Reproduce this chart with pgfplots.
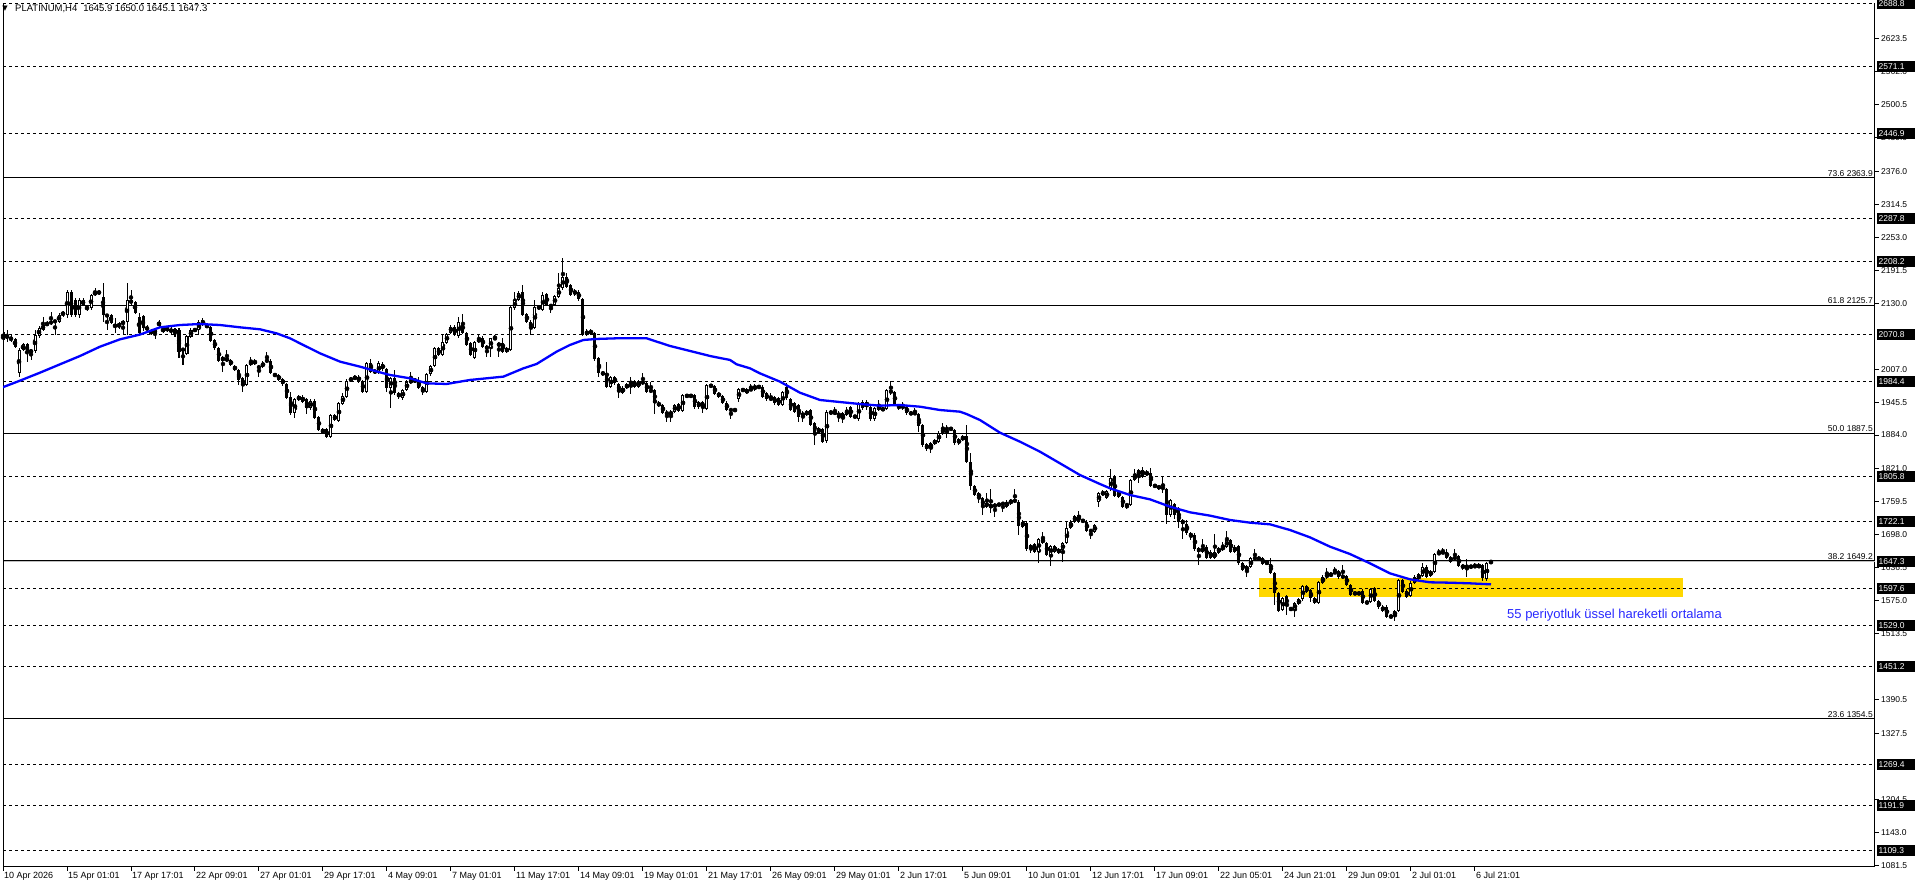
\documentclass[border=0pt]{standalone}
\usepackage{fontspec}
\setmainfont{Liberation Sans}
\newfontfamily\dejavu{DejaVu Sans}
\usepackage{pgfplots}
\usepackage{pgfplotstable}
\pgfplotsset{compat=1.18}
\definecolor{mablue}{RGB}{0,0,255}
\definecolor{zone}{RGB}{255,215,0}
\definecolor{txtblue}{RGB}{40,40,255}
\definecolor{pricegray}{RGB}{192,192,192}

\pgfplotstableread{
i o h l c
0 2076.9 2083.1 2048.9 2061.4
1 2064.5 2080.0 2058.0 2070.7
2 2064.5 2070.0 2058.0 2062.6
3 2062.6 2066.0 2045.8 2048.9
4 2000.4 2045.8 1993.0 2042.7
5 2042.7 2056.0 2040.0 2053.3
6 2053.3 2056.0 2021.0 2039.6
7 2037.7 2045.0 2024.1 2042.7
8 2040.8 2080.0 2038.0 2070.7
9 2068.8 2087.0 2066.0 2083.1
10 2080.0 2104.9 2078.0 2089.3
11 2089.3 2096.0 2087.0 2092.5
12 2092.5 2114.2 2090.0 2095.6
13 2095.6 2099.0 2070.7 2096.8
14 2095.6 2111.0 2093.0 2108.0
15 2108.0 2116.0 2105.0 2113.0
16 2108.0 2154.0 2101.8 2151.6
17 2151.6 2154.0 2105.0 2108.0
18 2136.0 2139.0 2104.0 2108.0
19 2108.0 2139.0 2101.8 2136.0
20 2126.7 2139.0 2124.0 2136.0
21 2123.6 2126.0 2116.0 2118.6
22 2120.5 2148.0 2118.0 2145.3
23 2145.3 2157.8 2143.0 2151.6
24 2148.5 2154.0 2146.0 2151.6
25 2142.2 2167.1 2095.6 2108.0
26 2108.0 2110.0 2080.0 2106.1
27 2108.0 2110.0 2091.0 2093.7
28 2089.3 2101.8 2073.8 2086.2
29 2085.0 2095.0 2082.0 2092.5
30 2091.2 2098.0 2070.7 2095.6
31 2095.6 2167.1 2070.7 2136.0
32 2136.0 2154.7 2127.0 2129.8
33 2132.9 2135.0 2110.0 2112.4
34 2104.9 2111.1 2070.0 2073.8
35 2106.1 2108.0 2078.0 2083.1
36 2086.2 2089.0 2077.0 2080.0
37 2078.2 2081.0 2071.0 2073.8
38 2080.0 2083.0 2062.6 2075.1
39 2087.5 2098.0 2085.0 2095.6
40 2083.1 2086.0 2074.0 2076.9
41 2085.0 2088.0 2076.0 2078.2
42 2081.9 2085.0 2073.0 2075.7
43 2081.9 2084.0 2066.3 2073.8
44 2080.0 2083.0 2028.4 2039.6
45 2044.0 2047.0 2014.7 2042.7
46 2035.2 2071.0 2033.0 2068.8
47 2067.6 2083.0 2065.0 2080.0
48 2078.2 2084.0 2076.0 2081.9
49 2080.0 2098.0 2070.7 2095.6
50 2089.3 2101.8 2087.0 2098.7
51 2089.3 2092.0 2083.0 2085.0
52 2086.2 2088.0 2058.0 2060.1
53 2061.4 2063.0 2043.0 2045.8
54 2047.1 2049.0 2020.0 2022.2
55 2022.8 2031.0 2002.3 2029.0
56 2022.8 2042.7 2020.0 2027.2
57 2024.1 2026.0 2012.0 2014.7
58 2012.8 2015.0 2003.0 2005.4
59 2005.4 2008.0 1977.4 1986.7
60 1989.8 1992.0 1964.9 1977.4
61 1977.4 2017.0 1975.0 2014.7
62 2014.7 2030.3 2012.0 2022.2
63 2022.2 2025.0 2015.0 2017.8
64 2012.8 2015.0 1993.0 2008.5
65 2011.6 2022.0 2009.0 2019.1
66 2021.0 2039.6 2019.0 2024.1
67 2022.2 2025.3 1997.0 1999.2
68 1997.9 2000.0 1992.0 1994.2
69 1996.1 1998.0 1984.0 1986.7
70 1988.6 1991.0 1976.0 1978.6
71 1979.3 1981.0 1951.0 1953.7
72 1955.6 1964.9 1922.0 1924.5
73 1924.5 1953.0 1915.2 1950.6
74 1950.6 1958.0 1948.0 1955.6
75 1955.6 1958.0 1944.0 1946.3
76 1950.6 1953.0 1922.7 1933.9
77 1933.9 1951.0 1931.0 1948.2
78 1948.2 1951.0 1914.0 1916.4
79 1918.3 1920.0 1891.0 1893.4
80 1888.4 1897.0 1886.0 1894.7
81 1894.7 1897.0 1877.9 1881.0
82 1881.0 1923.0 1879.0 1921.4
83 1921.4 1923.0 1910.0 1912.1
84 1910.8 1945.0 1909.0 1943.2
85 1941.9 1962.0 1940.0 1957.5
86 1955.6 1988.0 1953.0 1985.5
87 1984.9 1993.0 1983.0 1989.8
88 1988.6 1996.0 1986.0 1993.0
89 1993.0 1996.0 1982.0 1984.9
90 1984.9 1987.0 1962.0 1964.9
91 1964.9 2020.0 1962.0 2017.8
92 2017.8 2025.3 2000.0 2002.3
93 2005.4 2008.0 1997.0 1999.2
94 1999.2 2022.0 1997.0 2017.8
95 2016.6 2020.0 2004.0 2006.7
96 2006.7 2009.0 1965.0 1971.2
97 1971.2 1992.0 1935.0 1989.9
98 1989.9 2005.4 1959.0 1961.9
99 1963.1 1965.0 1952.0 1954.4
100 1952.5 1970.0 1950.0 1968.1
101 1968.1 1986.0 1966.0 1983.7
102 1981.8 2002.3 1979.0 1986.8
103 1983.7 1990.0 1981.0 1988.0
104 1983.7 1993.0 1969.0 1971.2
105 1973.1 1975.0 1958.8 1965.0
106 1965.0 1999.0 1963.0 1997.3
107 1997.3 2015.0 1995.0 2012.9
108 2012.9 2048.0 2011.0 2045.9
109 2045.9 2048.0 2031.0 2033.4
110 2033.4 2070.7 2031.0 2058.3
111 2056.4 2075.0 2054.0 2072.6
112 2075.1 2089.0 2073.0 2086.3
113 2086.3 2089.0 2068.0 2070.7
114 2068.9 2104.9 2066.0 2095.6
115 2093.7 2109.9 2073.0 2075.1
116 2075.1 2077.0 2050.0 2052.1
117 2055.2 2057.0 2031.0 2033.4
118 2027.2 2060.0 2025.0 2058.3
119 2058.3 2070.7 2056.0 2063.3
120 2065.8 2068.0 2047.0 2049.0
121 2050.2 2052.0 2029.1 2044.0
122 2045.9 2066.0 2030.3 2064.5
123 2062.6 2070.7 2061.0 2065.8
124 2050.2 2057.0 2030.3 2055.2
125 2055.2 2064.5 2037.0 2039.6
126 2045.9 2048.0 2037.0 2039.6
127 2042.7 2126.0 2040.0 2123.6
128 2120.5 2151.6 2118.0 2136.0
129 2136.0 2152.0 2134.0 2149.7
130 2151.6 2164.0 2106.0 2108.1
131 2109.9 2112.0 2093.0 2095.6
132 2095.6 2098.0 2070.7 2083.2
133 2083.2 2136.0 2081.0 2123.6
134 2123.6 2126.0 2118.0 2120.5
135 2117.4 2151.6 2115.0 2145.4
136 2147.2 2149.0 2124.0 2126.7
137 2126.7 2129.0 2112.4 2123.6
138 2126.7 2146.0 2124.0 2143.5
139 2142.3 2185.8 2140.0 2157.8
140 2157.8 2213.8 2155.0 2179.6
141 2179.6 2187.0 2158.0 2160.9
142 2164.0 2166.0 2143.0 2145.4
143 2146.6 2156.0 2144.0 2153.5
144 2151.6 2154.0 2135.0 2137.3
145 2137.3 2140.0 2068.0 2070.7
146 2070.7 2081.0 2068.0 2078.8
147 2078.8 2081.0 2071.0 2073.8
148 2073.8 2076.0 2023.0 2025.3
149 2027.2 2029.0 1993.0 1999.2
150 2002.3 2004.0 1994.0 1996.1
151 2000.4 2021.0 1972.0 1974.3
152 1974.3 1994.0 1972.0 1991.7
153 1993.0 1995.0 1978.0 1980.5
154 1979.3 1981.0 1952.5 1965.0
155 1963.1 1975.0 1961.0 1972.5
156 1971.2 1982.0 1969.0 1979.3
157 1979.3 1991.7 1960.6 1983.7
158 1983.7 1986.0 1972.0 1974.3
159 1974.3 1987.0 1972.0 1984.9
160 1983.7 1999.2 1978.0 1980.5
161 1981.8 1984.0 1963.0 1965.0
162 1965.0 1983.7 1963.0 1968.1
163 1968.1 1970.0 1923.3 1943.2
164 1944.5 1947.0 1936.0 1938.2
165 1940.1 1942.0 1923.0 1925.8
166 1927.7 1930.0 1909.0 1921.4
167 1921.4 1930.0 1909.0 1927.7
168 1927.7 1942.0 1925.0 1940.1
169 1942.0 1944.0 1927.0 1929.5
170 1929.5 1961.0 1927.0 1958.8
171 1958.8 1961.0 1953.0 1955.7
172 1955.7 1961.0 1953.0 1958.8
173 1958.8 1961.0 1933.0 1935.8
174 1935.8 1948.0 1933.0 1946.3
175 1946.3 1948.0 1924.6 1933.9
176 1932.0 1980.0 1930.0 1977.4
177 1977.4 1980.0 1972.0 1974.3
178 1976.2 1978.0 1958.0 1960.6
179 1963.1 1965.0 1953.0 1955.7
180 1956.9 1959.0 1941.0 1943.2
181 1944.5 1947.0 1929.0 1930.8
182 1932.0 1934.0 1913.4 1929.5
183 1929.5 1934.0 1927.0 1932.0
184 1950.7 1972.0 1945.0 1969.3
185 1969.3 1972.0 1964.0 1966.9
186 1961.9 1972.0 1960.0 1969.3
187 1969.9 1979.2 1966.0 1968.0
188 1969.3 1979.2 1967.0 1975.5
189 1974.2 1977.0 1971.0 1973.0
190 1974.2 1977.0 1953.0 1955.6
191 1961.8 1964.0 1948.0 1950.6
192 1949.4 1961.8 1947.0 1954.3
193 1954.3 1957.0 1941.0 1943.1
194 1952.5 1955.0 1938.0 1940.0
195 1940.0 1967.0 1938.0 1964.9
196 1974.2 1980.5 1950.0 1952.5
197 1950.6 1953.0 1928.0 1930.7
198 1943.1 1945.0 1925.0 1927.6
199 1940.0 1942.0 1908.9 1918.3
200 1918.3 1928.0 1908.9 1925.7
201 1921.4 1931.0 1919.0 1928.8
202 1930.7 1933.0 1900.0 1902.7
203 1905.8 1908.0 1865.4 1888.4
204 1888.4 1899.0 1886.0 1896.5
205 1894.6 1897.0 1869.0 1871.6
206 1873.5 1930.0 1870.0 1927.6
207 1924.5 1930.0 1922.0 1927.6
208 1923.2 1936.9 1921.0 1927.6
209 1925.7 1928.0 1908.9 1918.3
210 1924.5 1927.0 1905.8 1915.2
211 1921.4 1936.9 1919.0 1930.7
212 1936.9 1939.0 1916.0 1918.3
213 1919.5 1922.0 1915.0 1917.0
214 1913.3 1945.0 1911.0 1943.1
215 1946.3 1949.0 1931.0 1933.8
216 1936.9 1949.0 1930.7 1946.3
217 1936.9 1939.0 1911.0 1913.3
218 1913.3 1936.0 1911.0 1933.8
219 1930.7 1949.4 1928.0 1938.2
220 1933.8 1936.0 1928.0 1930.7
221 1932.0 1970.0 1930.0 1968.0
222 1968.0 1985.4 1959.0 1961.8
223 1964.9 1967.0 1938.0 1940.0
224 1940.0 1942.0 1931.0 1933.8
225 1933.8 1946.3 1931.0 1940.0
226 1936.9 1939.0 1922.0 1924.5
227 1925.7 1928.0 1921.0 1923.2
228 1923.2 1933.8 1921.0 1925.7
229 1923.2 1925.0 1890.3 1900.8
230 1902.7 1905.0 1862.3 1865.4
231 1867.3 1869.0 1855.0 1857.3
232 1859.2 1871.0 1849.8 1868.5
233 1867.3 1877.0 1865.0 1874.7
234 1871.6 1891.0 1869.0 1888.4
235 1887.2 1907.1 1885.0 1896.5
236 1896.5 1902.7 1877.8 1894.6
237 1894.6 1899.0 1892.0 1896.5
238 1893.4 1896.0 1866.0 1868.5
239 1868.5 1878.0 1866.0 1876.0
240 1874.7 1884.0 1872.0 1882.2
241 1882.2 1902.7 1832.0 1834.3
242 1834.3 1851.0 1781.4 1788.9
243 1788.9 1791.0 1770.0 1772.1
244 1767.7 1778.0 1756.5 1775.2
245 1765.9 1768.0 1734.8 1750.3
246 1757.8 1775.2 1748.0 1750.3
247 1747.2 1782.7 1737.9 1755.3
248 1749.1 1757.0 1731.7 1755.3
249 1753.4 1757.0 1751.0 1755.3
250 1755.3 1759.0 1741.0 1756.5
251 1750.3 1762.8 1748.0 1759.7
252 1756.5 1765.0 1754.0 1762.8
253 1762.8 1782.7 1757.0 1759.7
254 1759.7 1762.0 1697.5 1714.2
255 1713.0 1725.0 1711.0 1722.3
256 1720.5 1723.0 1668.0 1670.7
257 1670.7 1681.0 1663.2 1678.8
258 1680.0 1682.0 1664.0 1666.4
259 1666.4 1692.0 1644.6 1689.4
260 1681.9 1703.7 1680.0 1691.2
261 1683.1 1685.0 1658.0 1660.1
262 1660.1 1679.0 1639.6 1676.9
263 1666.4 1679.0 1664.0 1676.9
264 1664.5 1673.0 1662.0 1670.7
265 1669.5 1684.0 1647.7 1681.9
266 1681.9 1722.3 1680.0 1709.9
267 1709.9 1725.0 1708.0 1722.3
268 1722.3 1735.0 1720.0 1732.9
269 1734.8 1743.0 1720.0 1722.3
270 1722.3 1728.0 1720.0 1725.4
271 1722.3 1725.0 1703.0 1705.5
272 1706.8 1709.0 1689.4 1703.7
273 1703.7 1718.0 1701.0 1716.1
274 1759.7 1778.0 1750.3 1775.2
275 1772.1 1781.0 1770.0 1778.3
276 1765.9 1782.0 1764.0 1779.6
277 1782.7 1820.0 1780.0 1803.2
278 1806.3 1809.0 1768.0 1770.3
279 1778.4 1781.0 1767.0 1769.0
280 1769.0 1771.0 1748.0 1750.4
281 1751.6 1757.0 1745.4 1755.3
282 1753.5 1802.0 1751.0 1800.1
283 1800.1 1820.0 1798.0 1811.3
284 1809.5 1821.0 1793.9 1818.8
285 1818.8 1823.8 1804.0 1806.3
286 1809.5 1818.0 1807.0 1815.7
287 1813.8 1821.9 1787.0 1788.9
288 1790.8 1793.0 1785.0 1787.7
289 1788.9 1791.0 1782.0 1784.6
290 1787.7 1805.1 1775.2 1782.7
291 1782.7 1785.0 1718.0 1734.8
292 1734.8 1765.0 1732.0 1762.8
293 1755.3 1757.0 1726.7 1734.8
294 1747.3 1749.0 1709.9 1722.4
295 1725.5 1727.0 1689.4 1718.0
296 1718.0 1725.5 1698.0 1700.6
297 1701.8 1704.0 1688.2 1693.1
298 1697.5 1701.8 1668.0 1670.7
299 1672.6 1675.0 1641.5 1666.4
300 1666.4 1689.4 1664.0 1673.9
301 1675.7 1678.0 1652.0 1654.0
302 1654.0 1669.0 1652.0 1666.4
303 1654.0 1699.4 1652.0 1666.4
304 1664.5 1676.0 1662.0 1673.9
305 1669.5 1685.1 1667.0 1677.0
306 1675.7 1705.6 1674.0 1688.2
307 1688.2 1690.0 1664.0 1666.4
308 1666.4 1678.0 1664.0 1675.7
309 1677.0 1679.0 1641.5 1644.6
310 1644.6 1647.0 1630.0 1632.2
311 1630.9 1642.0 1618.5 1639.6
312 1637.2 1656.0 1635.0 1654.0
313 1652.1 1670.7 1650.0 1655.8
314 1655.8 1658.0 1649.0 1650.8
315 1654.0 1656.0 1641.0 1643.4
316 1643.4 1650.0 1641.0 1647.7
317 1643.4 1654.0 1624.0 1625.9
318 1625.9 1628.0 1566.9 1588.6
319 1589.9 1592.0 1554.0 1556.3
320 1557.5 1581.0 1555.0 1579.3
321 1583.7 1586.0 1548.2 1565.0
322 1557.5 1564.0 1555.0 1561.3
323 1557.5 1573.0 1545.1 1571.2
324 1568.7 1580.0 1566.0 1577.4
325 1577.4 1604.0 1575.0 1602.3
326 1602.3 1604.0 1589.0 1591.8
327 1594.9 1597.0 1573.1 1579.3
328 1571.2 1581.0 1569.0 1579.3
329 1571.2 1612.0 1569.0 1610.4
330 1608.5 1622.9 1606.0 1618.5
331 1618.5 1635.3 1616.0 1624.7
332 1621.0 1628.0 1619.0 1625.9
333 1627.2 1637.2 1625.0 1627.8
334 1630.9 1633.0 1616.0 1618.5
335 1621.0 1641.5 1616.0 1618.5
336 1621.0 1623.0 1602.0 1604.2
337 1604.2 1606.0 1583.0 1585.5
338 1589.9 1592.0 1585.0 1587.4
339 1587.4 1592.0 1585.0 1589.9
340 1593.6 1596.0 1569.0 1571.2
341 1573.1 1575.0 1568.0 1570.0
342 1573.1 1598.0 1571.0 1596.1
343 1598.0 1600.0 1573.0 1575.0
344 1575.0 1577.0 1560.0 1562.5
345 1563.8 1566.0 1554.0 1556.3
346 1563.8 1566.0 1543.0 1545.1
347 1546.3 1548.0 1542.0 1545.1
348 1546.3 1558.0 1537.6 1556.3
349 1556.3 1615.0 1554.0 1613.5
350 1613.5 1616.0 1590.0 1591.8
351 1593.6 1596.0 1580.0 1582.4
352 1583.7 1611.0 1581.0 1608.5
353 1608.5 1622.0 1606.0 1619.7
354 1614.8 1627.0 1612.0 1624.7
355 1621.0 1645.9 1619.0 1637.2
356 1638.4 1641.0 1617.0 1619.7
357 1621.0 1633.0 1619.0 1630.9
358 1629.1 1664.0 1627.0 1662.0
359 1662.0 1670.7 1660.0 1664.5
360 1664.5 1672.6 1662.0 1664.5
361 1666.4 1670.7 1652.0 1654.0
362 1657.1 1659.0 1645.0 1647.7
363 1657.1 1670.7 1650.0 1652.1
364 1658.3 1660.0 1637.0 1639.6
365 1635.3 1644.0 1633.0 1641.5
366 1641.5 1652.1 1618.5 1635.3
367 1639.6 1642.0 1635.0 1637.2
368 1638.4 1644.6 1636.0 1639.6
369 1637.2 1644.6 1635.0 1641.5
370 1641.5 1644.0 1612.3 1616.6
371 1614.8 1648.0 1612.0 1645.9
372 1645.9 1650.0 1645.1 1647.3
}\candles

\newcommand{\smallfont}{\fontsize{8.5pt}{10pt}\selectfont}
\newcommand{\pricebox}[1]{\node[fill=black,text=white,anchor=west,inner xsep=2pt,inner ysep=0pt,text width=34pt,minimum height=11pt,font=\smallfont] at (axis cs:468,#1) [xshift=1.5pt] {#1};}
\newcommand{\hlev}[1]{\draw[black,line width=1pt,dash pattern=on 3pt off 3pt] (axis cs:0,#1) -- (axis cs:468,#1);}
\newcommand{\fibline}[2]{\draw[black,line width=1pt] (axis cs:0,#2) -- (axis cs:468,#2);
  \node[anchor=south east,inner sep=0pt,font=\smallfont] at (axis cs:467.5,#2) [yshift=1.5pt] {#1 #2};}

\begin{document}
\begin{tikzpicture}
\begin{axis}[
  at={(3pt,21pt)}, anchor=south west,
  width=1872pt, height=864pt, scale only axis,
  xmin=0, xmax=468, ymin=1078, ymax=2690.2,
  axis x line*=bottom, axis y line*=right,
  axis line style={line width=1pt, black},
  clip mode=individual,
  tick align=outside,
  major tick length=4pt,
  tick style={black, line width=1pt},
  xtick={0,16,...,368},
  xticklabels={10 Apr 2026,15 Apr 01:01,17 Apr 17:01,22 Apr 09:01,27 Apr 01:01,29 Apr 17:01,4 May 09:01,7 May 01:01,11 May 17:01,14 May 09:01,19 May 01:01,21 May 17:01,26 May 09:01,29 May 01:01,2 Jun 17:01,5 Jun 09:01,10 Jun 01:01,12 Jun 17:01,17 Jun 09:01,22 Jun 05:01,24 Jun 21:01,29 Jun 09:01,2 Jul 01:01,6 Jul 21:01},
  xticklabel style={font=\fontsize{9pt}{10pt}\selectfont, anchor=north west, inner sep=0pt, xshift=1pt, yshift=-1pt},
  ytick={1081.5,1143.0,1204.5,1327.5,1390.5,1513.5,1575.0,1636.5,1698.0,1759.5,1821.0,1884.0,1945.5,2007.0,2130.0,2191.5,2253.0,2314.5,2376.0,2439.0,2500.5,2562.0,2623.5},
  yticklabels={1081.5,1143.0,1204.5,1327.5,1390.5,1513.5,1575.0,1636.5,1698.0,1759.5,1821.0,1884.0,1945.5,2007.0,2130.0,2191.5,2253.0,2314.5,2376.0,2439.0,2500.5,2562.0,2623.5},
  yticklabel style={font=\smallfont, anchor=west, inner sep=0pt, xshift=2pt},
]
% zone
\fill[zone] (axis cs:314,1581.0) rectangle (axis cs:420,1616.4);
% dashed horizontal levels
\hlev{2688.8}\hlev{2571.1}\hlev{2446.9}\hlev{2287.8}\hlev{2208.2}
\hlev{2070.8}\hlev{1984.4}\hlev{1805.8}\hlev{1722.1}\hlev{1597.6}
\hlev{1529.0}\hlev{1451.2}\hlev{1269.4}\hlev{1191.9}\hlev{1109.3}
% current price line
\draw[pricegray,line width=1pt] (axis cs:0,1647.3) -- (axis cs:468,1647.3);
% fibonacci levels
\fibline{73.6}{2363.9}
\fibline{61.8}{2125.7}
\fibline{50.0}{1887.5}
\fibline{38.2}{1649.2}
\fibline{23.6}{1354.5}
% left border
\draw[black,line width=1pt] (axis cs:0,1078) -- (axis cs:0,2690.2);

% candles: wicks
\addplot[only marks, mark=none, forget plot,
  error bars/.cd, y dir=both, y explicit, error mark=none,
  error bar style={black, line width=1pt}]
  table[x=i, y expr={(\thisrow{h}+\thisrow{l})/2}, y error expr={(\thisrow{h}-\thisrow{l})/2}] {\candles};
% candles: bodies
\addplot[only marks, mark=none, forget plot,
  error bars/.cd, y dir=both, y explicit, error mark=none,
  error bar style={black, line width=3pt}]
  table[x=i, y expr={(\thisrow{o}+\thisrow{c})/2}, y error expr={max(abs(\thisrow{c}-\thisrow{o})/2,0.9)}] {\candles};
% bullish bodies hollow
\addplot[only marks, mark=none, forget plot,
  restrict expr to domain={\thisrow{c}-\thisrow{o}}{4:100000},
  error bars/.cd, y dir=both, y explicit, error mark=none,
  error bar style={white, line width=1pt}]
  table[x=i, y expr={(\thisrow{o}+\thisrow{c})/2}, y error expr={(\thisrow{c}-\thisrow{o})/2-1.9}] {\candles};

% EMA 55
\addplot[mablue, line width=2.3pt, mark=none] coordinates {
(-1,1970.5) (4.25,1985.5) (9.25,2000.4) (14.25,2016.0) (19.25,2031.5) (24.25,2048.9)
(29.25,2062.6) (34.25,2071.5) (39.25,2085.0) (44.25,2089.3) (49.25,2091.2) (54.25,2089.3)
(59.25,2085.0) (64.25,2081.3) (68.4,2073.8) (71.75,2064.5) (74.25,2055.1) (79.25,2036.5)
(84.25,2021.0) (89.25,2011.6) (94.25,2001.0) (96.75,1996.1) (101.75,1989.9) (105.9,1980.5)
(110.9,1979.3) (116.75,1986.8) (125.1,1993.0) (130.1,2008.5) (133.4,2016.6) (138.4,2039.6)
(141.75,2052.1) (145.1,2061.4) (148.4,2063.3) (153.4,2064.5) (160.9,2064.5) (166.75,2050.2)
(171.75,2040.9) (176.75,2031.5) (181.75,2024.1) (183.4,2016.0) (186.75,2008.5) (189.25,1999.1)
(194.25,1983.6) (199.25,1963.0) (204.25,1949.4) (209.25,1945.6) (214.25,1941.9) (219.25,1938.8)
(224.25,1940.0) (229.25,1936.9) (234.25,1930.7) (239.25,1927.6) (240.9,1923.2) (244.25,1912.0)
(249.25,1888.4) (254.25,1871.6) (259.25,1852.9) (264.25,1831.2) (269.25,1809.4) (274.25,1792.6)
(276.75,1784.6) (281.75,1772.1) (286.75,1764.0) (291.75,1750.4) (296.75,1739.8) (301.75,1733.6)
(306.75,1725.5) (311.75,1720.5) (316.75,1717.4) (321.75,1706.8) (326.75,1693.1) (331.75,1675.7)
(336.75,1662.0) (341.75,1644.6) (346.75,1625.9) (351.75,1614.8) (356.75,1609.2) (361.75,1608.5)
(366.75,1607.3) (372,1605.4)
};

% annotation
\node[anchor=west,inner sep=0pt,text=txtblue,font=\fontsize{13pt}{15pt}\selectfont] at (axis cs:376,1548.2) {55 periyotluk üssel hareketli ortalama};

% right-axis price boxes
\pricebox{2688.8}\pricebox{2571.1}\pricebox{2446.9}\pricebox{2287.8}\pricebox{2208.2}
\pricebox{2070.8}\pricebox{1984.4}\pricebox{1805.8}\pricebox{1722.1}\pricebox{1647.3}
\pricebox{1597.6}\pricebox{1529.0}\pricebox{1451.2}\pricebox{1269.4}\pricebox{1191.9}
\pricebox{1109.3}

% title
\node[inner sep=0pt,font=\dejavu\fontsize{7pt}{8pt}\selectfont] at (axis cs:0.5,2679) {▼};
\node[anchor=west,inner sep=0pt,font=\fontsize{9.5pt}{11pt}\selectfont] at (axis cs:3.0,2679) {PLATINUM,H4\hspace{6pt}1645.9 1650.0 1645.1 1647.3};
\end{axis}
\pgfresetboundingbox
\path[use as bounding box] (0,0) rectangle (1916pt,888pt);
\end{tikzpicture}
\end{document}
